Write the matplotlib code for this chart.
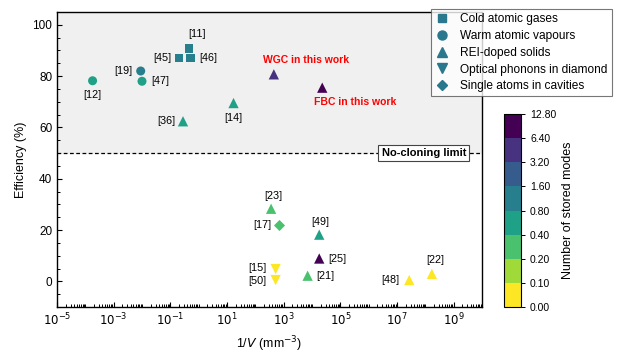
import numpy as np
import matplotlib.pyplot as plt
import matplotlib.colors as mcolors
from matplotlib.lines import Line2D
from matplotlib.ticker import FixedLocator, NullFormatter, MultipleLocator

plt.rcParams['font.family'] = ['Liberation Sans', 'DejaVu Sans']

# data: reference label, 1/V (mm^-3), efficiency (%), number of stored modes
cold_refs = ['[11]', '[45]', '[46]']
cold_x = [0.46, 0.2, 0.52]
cold_y = [90.8, 87.1, 87.0]
cold_modes = [1.0, 1.0, 1.0]

warm_refs = ['[12]', '[19]', '[47]']
warm_x = [1.8e-4, 9e-3, 1.0e-2]
warm_y = [78.2, 82.0, 78.0]
warm_modes = [0.5, 1.0, 0.5]

rei_refs = ['[36]', '[14]', 'WGC', 'FBC', '[23]', '[49]', '[25]', '[21]', '[48]', '[22]']
rei_x = [0.28, 17, 450, 23000, 360, 18000, 18000, 7000, 2.7e7, 1.7e8]
rei_y = [62.4, 69.5, 80.7, 75.5, 28.3, 18.2, 8.9, 2.2, 0.5, 2.9]
rei_modes = [0.5, 0.5, 4.0, 10.0, 0.3, 0.5, 10.0, 0.3, 0.05, 0.05]

phonon_refs = ['[15]', '[50]']
phonon_x = [520, 520]
phonon_y = [4.8, 0.5]
phonon_modes = [0.05, 0.05]

cavity_refs = ['[17]']
cavity_x = [700]
cavity_y = [21.9]
cavity_modes = [0.3]

bounds = [0, 0.1, 0.2, 0.4, 0.8, 1.6, 3.2, 6.4, 12.8]
legend_names = ['Cold atomic gases', 'Warm atomic vapours', 'REI-doped solids',
                'Optical phonons in diamond', 'Single atoms in cavities']

# label offsets in pixels (dx, dy, ha)
offsets = {
    '[11]': (8, 14, 'center'), '[45]': (-7, 0, 'right'), '[46]': (9, 0, 'left'),
    '[12]': (0, -14, 'center'), '[19]': (-8, 0, 'right'), '[47]': (9, 0, 'left'),
    '[36]': (-8, 0, 'right'), '[14]': (0, -15, 'center'), '[23]': (2, 13, 'center'),
    '[49]': (1, 13, 'center'), '[25]': (9, 0, 'left'), '[21]': (9, 0, 'left'),
    '[48]': (-10, 0, 'right'), '[22]': (3, 14, 'center'), '[15]': (-9, 1, 'right'),
    '[50]': (-9, -1, 'right'), '[17]': (-8, 0, 'right'),
}

cmap = plt.get_cmap('viridis_r', 8)
norm = mcolors.BoundaryNorm(bounds, cmap.N)

fig = plt.figure(figsize=(6.34, 3.57), dpi=100)
ax = fig.add_axes([57 / 634, 1 - 307 / 357, 425 / 634, 295 / 357])

ax.axhspan(50, 105, color='#f0f0f0', zorder=0)
ax.axhline(50, color='black', linestyle='--', linewidth=0.9, dashes=(3, 2), zorder=1)

groups = [
    (cold_refs, cold_x, cold_y, cold_modes, 's', 38),
    (warm_refs, warm_x, warm_y, warm_modes, 'o', 42),
    (rei_refs, rei_x, rei_y, rei_modes, '^', 55),
    (phonon_refs, phonon_x, phonon_y, phonon_modes, 'v', 55),
    (cavity_refs, cavity_x, cavity_y, cavity_modes, 'D', 32),
]
for refs, xs, ys, ms, marker, size in groups:
    ax.scatter(xs, ys, c=ms, cmap=cmap, norm=norm, marker=marker, s=size,
               linewidths=0, zorder=3)
    for r, x, y in zip(refs, xs, ys):
        if r in offsets:
            dx, dy, ha = offsets[r]
            ax.annotate(r, (x, y), xytext=(dx, dy), textcoords='offset pixels',
                        ha=ha, va='center', fontsize=7.8)

ax.annotate('WGC in this work', (rei_x[2], rei_y[2]), xytext=(32, 14),
            textcoords='offset pixels', ha='center', va='center',
            color='red', fontsize=7.5, fontweight='bold')
ax.annotate('FBC in this work', (rei_x[3], rei_y[3]), xytext=(33, -14),
            textcoords='offset pixels', ha='center', va='center',
            color='red', fontsize=7.5, fontweight='bold')

ax.text(0.863, 50, 'No-cloning limit', transform=ax.get_yaxis_transform(),
        ha='center', va='center', fontsize=8, fontweight='bold',
        bbox=dict(boxstyle='square,pad=0.3', fc='white', ec='#444444', lw=0.8), zorder=4)

ax.set_xscale('log')
ax.set_xlim(1e-5, 1e10)
ax.set_ylim(-10, 105)
ax.set_xticks([10.0 ** k for k in range(-5, 10, 2)])
ax.set_xticklabels(['$10^{%d}$' % k for k in range(-5, 10, 2)])
ax.xaxis.set_minor_locator(FixedLocator(
    [m * 10.0 ** k for k in range(-5, 10) for m in range(1, 10) if not (m == 1 and k % 2 == 1)]))
ax.xaxis.set_minor_formatter(NullFormatter())
ax.set_yticks([0, 20, 40, 60, 80, 100])
ax.yaxis.set_minor_locator(MultipleLocator(5))
ax.tick_params(which='both', direction='in', labelsize=8.5)
ax.tick_params(which='major', length=3.5, width=0.8)
ax.tick_params(which='minor', length=2, width=0.7)
ax.tick_params(axis='x', which='minor', length=2.5)
ax.set_xlabel('1/$V$ (mm$^{-3}$)', fontsize=9)
ax.set_ylabel('Efficiency (%)', fontsize=9)
for s in ax.spines.values():
    s.set_linewidth(1.0)

handles = [Line2D([], [], marker=m, linestyle='none', color='#2a788e', markersize=ms)
           for m, ms in zip(['s', 'o', '^', 'v', 'D'], [6, 6.5, 7, 7, 5.5])]
leg = ax.legend(handles, legend_names, loc='upper left',
                bbox_to_anchor=((431 - 57) / 425, (307 - 9) / 295), fontsize=8.6,
                frameon=True, fancybox=False, edgecolor='#555555', handlelength=1.2,
                handletextpad=0.9, labelspacing=0.4, borderpad=0.35, borderaxespad=0)
leg.get_frame().set_linewidth(0.8)
leg.set_zorder(5)

cax = fig.add_axes([504 / 634, 1 - 307 / 357, 17 / 634, 193 / 357])
sm = plt.cm.ScalarMappable(norm=norm, cmap=cmap)
cb = fig.colorbar(sm, cax=cax, ticks=bounds, spacing='uniform')
cb.ax.set_yticklabels(['%.2f' % b for b in bounds])
cb.ax.tick_params(labelsize=7.5, length=3, width=0.7)
cb.set_label('Number of stored modes', fontsize=9)
cb.outline.set_linewidth(0.8)

fig.savefig('out.png', dpi=100)
